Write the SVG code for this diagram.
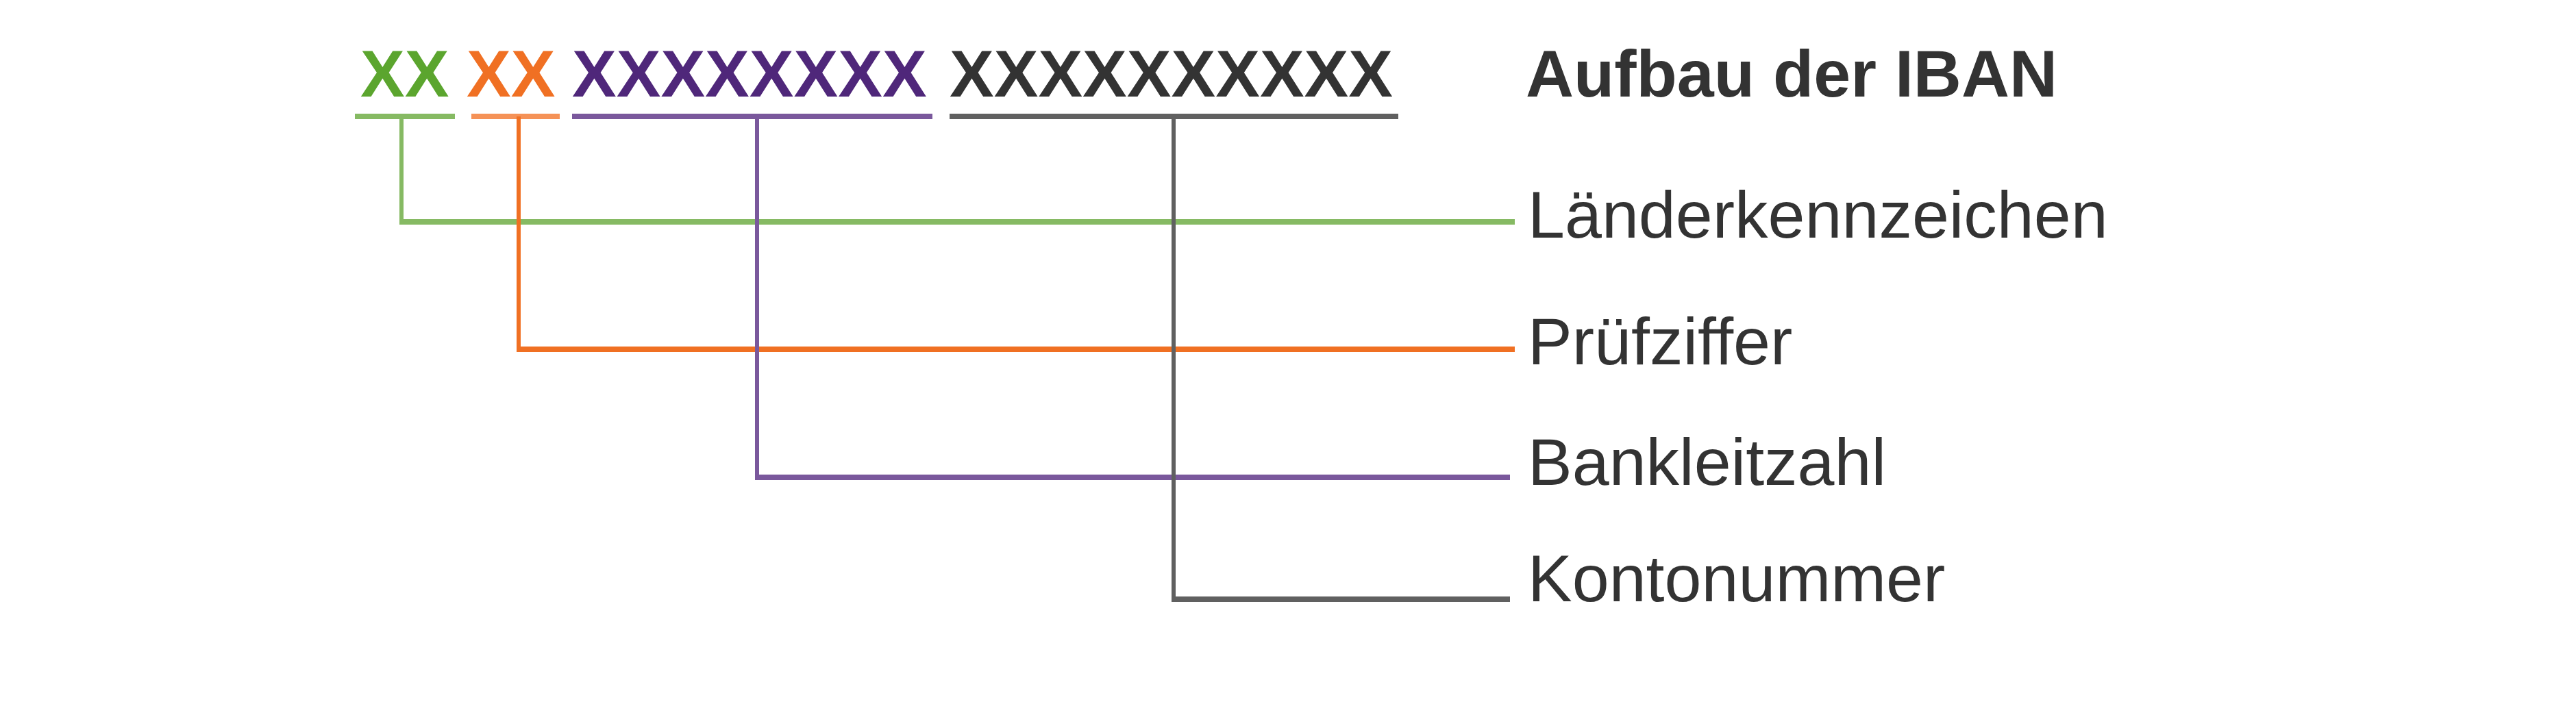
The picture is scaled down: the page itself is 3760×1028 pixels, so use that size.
<svg xmlns="http://www.w3.org/2000/svg" width="3760" height="1028" viewBox="0 0 3760 1028">
<style>
text{font-family:"Liberation Sans",Arial,sans-serif;font-size:97px}
.code{font-weight:bold}
.title{font-weight:bold;fill:#333333}
.label{fill:#333333}
.g{fill:#5ba52e}.o{fill:#f07023}.p{fill:#4f277a}.d{fill:#333333}
.ln{fill:none;stroke-linecap:butt}
.lg{stroke:#86ba63}.lo{stroke:#f07023}.lo2{stroke:#f59257}.lp{stroke:#7a589c}.ld{stroke:#606060}
.h{stroke-width:8}.v{stroke-width:6}
</style>
<rect width="3760" height="1028" fill="#ffffff"/>
<g id="iban-code">
<text class="code g" x="526" y="141">XX</text>
<text class="code o" x="681" y="141">XX</text>
<text class="code p" x="835" y="141">XXXXXXXX</text>
<text class="code d" x="1386" y="141">XXXXXXXXXX</text>
</g>
<g id="title"><text class="title" x="2227" y="141">Aufbau der IBAN</text></g>
<g id="connectors">
<line class="ln lg h" x1="518" y1="170" x2="664" y2="170"/>
<line class="ln lo2 h" x1="688" y1="170" x2="817" y2="170"/>
<line class="ln lp h" x1="835" y1="170" x2="1361" y2="170"/>
<line class="ln ld h" x1="1386" y1="170" x2="2041" y2="170"/>
<polyline class="ln lg v" points="586,170 586,324"/>
<line class="ln lg h" x1="583" y1="324" x2="2211" y2="324"/>
<polyline class="ln lo v" points="757,170 757,510"/>
<line class="ln lo h" x1="754" y1="510" x2="2211" y2="510"/>
<polyline class="ln lp v" points="1105,170 1105,697"/>
<line class="ln lp h" x1="1102" y1="697" x2="2204" y2="697"/>
<polyline class="ln ld v" points="1713,170 1713,875"/>
<line class="ln ld h" x1="1710" y1="875" x2="2204" y2="875"/>
</g>
<g id="label-laenderkennzeichen"><text class="label" x="2230" y="347">Länderkennzeichen</text></g>
<g id="label-pruefziffer"><text class="label" x="2230" y="532">Prüfziffer</text></g>
<g id="label-bankleitzahl"><text class="label" x="2230" y="708">Bankleitzahl</text></g>
<g id="label-kontonummer"><text class="label" x="2230" y="878">Kontonummer</text></g>
</svg>
